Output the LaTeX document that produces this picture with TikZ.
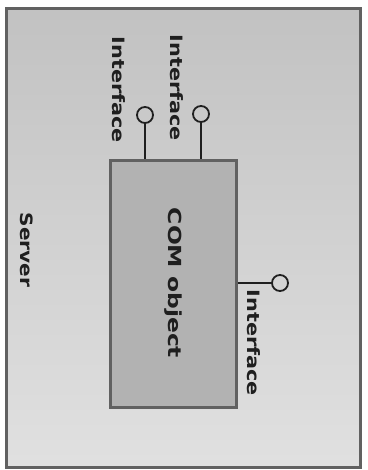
\documentclass[tikz,border=0pt]{standalone}
\usepackage{fontspec}
\setmainfont{DejaVu Sans}
\usetikzlibrary{calc,positioning}

\begin{document}
\begin{tikzpicture}[x=1pt,y=-1pt,
  every node/.style={font=\bfseries\fontsize{17}{20}\selectfont,text=black!88},
  frame/.style={draw=black!62,line width=3.4pt,top color=black!24,bottom color=black!12,
    minimum width=354pt,minimum height=459pt,inner sep=0pt},
  box/.style={draw=black!62,line width=3pt,fill=black!30,
    minimum width=126pt,minimum height=247pt,inner sep=0pt},
  lolli/.style={circle,draw=black!88,line width=1.8pt,minimum size=16pt,inner sep=0pt},
  stick/.style={line width=1.8pt,black!88},
  lbl/.style={rotate=-90,inner sep=0pt}]
  \useasboundingbox (0,0) rectangle (367,470);
  \node[frame] (server) at (183.5,238) {};
  \node[box] (com) at (173.5,284) {};
  \node[lolli] (i1) at (145,115) {};
  \node[lolli] (i2) at (201,114) {};
  \node[lolli] (i3) at (280,283) {};
  \draw[stick] (com.north -| i1) -- (i1);
  \draw[stick] (com.north -| i2) -- (i2);
  \draw[stick] (com.east |- i3) -- (i3);
  \node[lbl,xscale=1.22] (l1) at (119,90) {Interface};
  \node[lbl,xscale=1.22] (l2) at (177,88) {Interface};
  \node[lbl,xscale=1.22] (l3) at (254,343) {Interface};
  \node[lbl,xscale=1.3,font=\bfseries\fontsize{18}{20}\selectfont] (obj) at (173,283) {COM object};
  \node[lbl,xscale=1.18] (srv) at (27,250) {Server};
\end{tikzpicture}
\end{document}
